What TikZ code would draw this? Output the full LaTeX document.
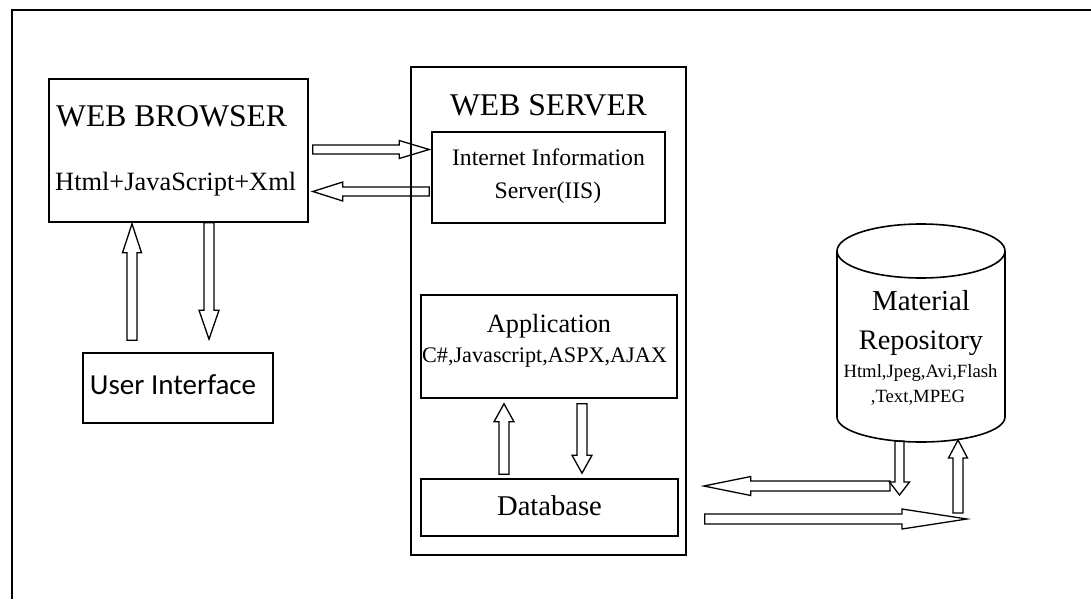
\documentclass[tikz,border=0pt]{standalone}
\usepackage{fontspec}
\setmainfont{Liberation Serif}
\newfontfamily\uifont{Carlito}
\usetikzlibrary{calc}

\tikzset{
  box/.style={draw, line width=1.6pt, inner sep=0pt},
  lbl/.style={inner sep=0pt, anchor=base},
  blk/.style={draw, line width=1.3pt, line join=miter},
}
\newcommand\fs[1]{\fontsize{#1}{#1}\selectfont}

% hollow block arrow: #1 tail, #2 tip, #3 shaft half width, #4 head half width, #5 head length
\newcommand\blockarr[5]{%
  \coordinate (hb) at ($(#2)!#5!(#1)$);
  \draw[blk] ($(#1)!#3!90:(#2)$) -- ($(hb)!#3!90:(#2)$) -- ($(hb)!#4!90:(#2)$)
    -- (#2) -- ($(hb)!#4!-90:(#2)$) -- ($(hb)!#3!-90:(#2)$) -- ($(#1)!#3!-90:(#2)$) -- cycle;}

\begin{document}
\begin{tikzpicture}[x=1pt, y=-1pt]
\useasboundingbox (0,0) rectangle (1091,599);

% frame
\draw[line width=1.5pt] (1091,10) -- (12,10) -- (12,599);

% browser side
\node[box, minimum width=259pt, minimum height=143pt] (browser) at (178.5,150.5) {};
\node[lbl, anchor=base west, font=\fs{31.6}] (browsertitle) at (56,126) {WEB BROWSER};
\node[lbl, anchor=base west, font=\fs{26.4}] (browsertech) at (55,190) {Html+JavaScript+Xml};
\node[box, minimum width=190pt, minimum height=70pt] (ui) at (178,388) {};
\node[lbl, font=\uifont\fs{29}] (uitext) at (173,394) {User Interface};

% web server
\node[box, minimum width=275pt, minimum height=488pt] (server) at (548.5,311) {};
\node[lbl, font=\fs{31.6}] (servertitle) at (548.5,115) {WEB SERVER};
\node[box, minimum width=233pt, minimum height=91pt] (iis) at (548.5,177.5) {};
\node[lbl, font=\fs{23.7}] (iis1) at (548.5,165) {Internet Information};
\node[lbl, font=\fs{23.7}] (iis2) at (548,198) {Server(IIS)};
\node[box, minimum width=256pt, minimum height=103pt] (app) at (549,346.5) {};
\node[lbl, font=\fs{26.3}] (app1) at (549,332) {Application};
\node[lbl, font=\fs{22.2}] (app2) at (544.5,362) {C\#,Javascript,ASPX,AJAX};
\node[box, minimum width=257pt, minimum height=57pt] (db) at (549.5,507.5) {};
\node[lbl, font=\fs{28.6}] (dbtext) at (549.5,515) {Database};

% material repository cylinder
\coordinate (cyl) at (921,417);
\draw[line width=1.6pt] (921,251) ellipse[x radius=84, y radius=27];
\draw[line width=1.6pt] (837,251) -- (837,417)
  arc[start angle=180, end angle=360, x radius=84pt, y radius=25pt] -- (1005,251);
\node[lbl, font=\fs{28.9}] (repo1) at (921,310) {Material};
\node[lbl, font=\fs{28.3}] (repo2) at (921,349) {Repository};
\node[lbl, font=\fs{18.7}] (repo3) at (920.5,377) {Html,Jpeg,Avi,Flash};
\node[lbl, font=\fs{18.7}] (repo4) at (918,402) {,Text,MPEG};

% connectors
\coordinate (a1s) at ($(browser.east)+(4,-1)$);
\coordinate (a1t) at ($(iis.west)+(-2,-28)$);
\blockarr{a1s}{a1t}{4.5pt}{9pt}{30pt}
\coordinate (a2s) at ($(iis.west)+(-2,14)$);
\coordinate (a2t) at ($(browser.east)+(4,41)$);
\blockarr{a2s}{a2t}{4.5pt}{9.5pt}{30pt}
\coordinate (a3s) at ($(ui.north)+(-46,-12)$);
\coordinate (a3t) at ($(browser.south)+(-46.5,1)$);
\blockarr{a3s}{a3t}{5pt}{9.5pt}{29pt}
\coordinate (a4s) at ($(browser.south)+(30.5,0)$);
\coordinate (a4t) at ($(ui.north)+(31,-13)$);
\blockarr{a4s}{a4t}{5pt}{10pt}{29pt}
\coordinate (a5s) at ($(db.north)+(-45.5,-4)$);
\coordinate (a5t) at ($(app.south)+(-45,5)$);
\blockarr{a5s}{a5t}{5pt}{10pt}{18pt}
\coordinate (a6s) at ($(app.south)+(33,5)$);
\coordinate (a6t) at ($(db.north)+(32.5,-5)$);
\blockarr{a6s}{a6t}{5pt}{10pt}{18pt}
\coordinate (a7s) at ($(cyl)+(-21.5,24)$);
\coordinate (a7t) at ($(cyl)+(-21.5,78)$);
\blockarr{a7s}{a7t}{4.5pt}{10pt}{13pt}
\coordinate (a8s) at ($(cyl)+(37,96)$);
\coordinate (a8t) at ($(cyl)+(37,23)$);
\blockarr{a8s}{a8t}{5pt}{9.5pt}{18pt}
\coordinate (a9s) at ($(cyl)+(-31,69)$);
\coordinate (a9t) at ($(db.east)+(25,-21.5)$);
\blockarr{a9s}{a9t}{5pt}{9.5pt}{47pt}
\coordinate (a10s) at ($(db.east)+(26,11.5)$);
\coordinate (a10t) at ($(cyl)+(46,102)$);
\blockarr{a10s}{a10t}{5pt}{10pt}{65pt}
\end{tikzpicture}
\end{document}
